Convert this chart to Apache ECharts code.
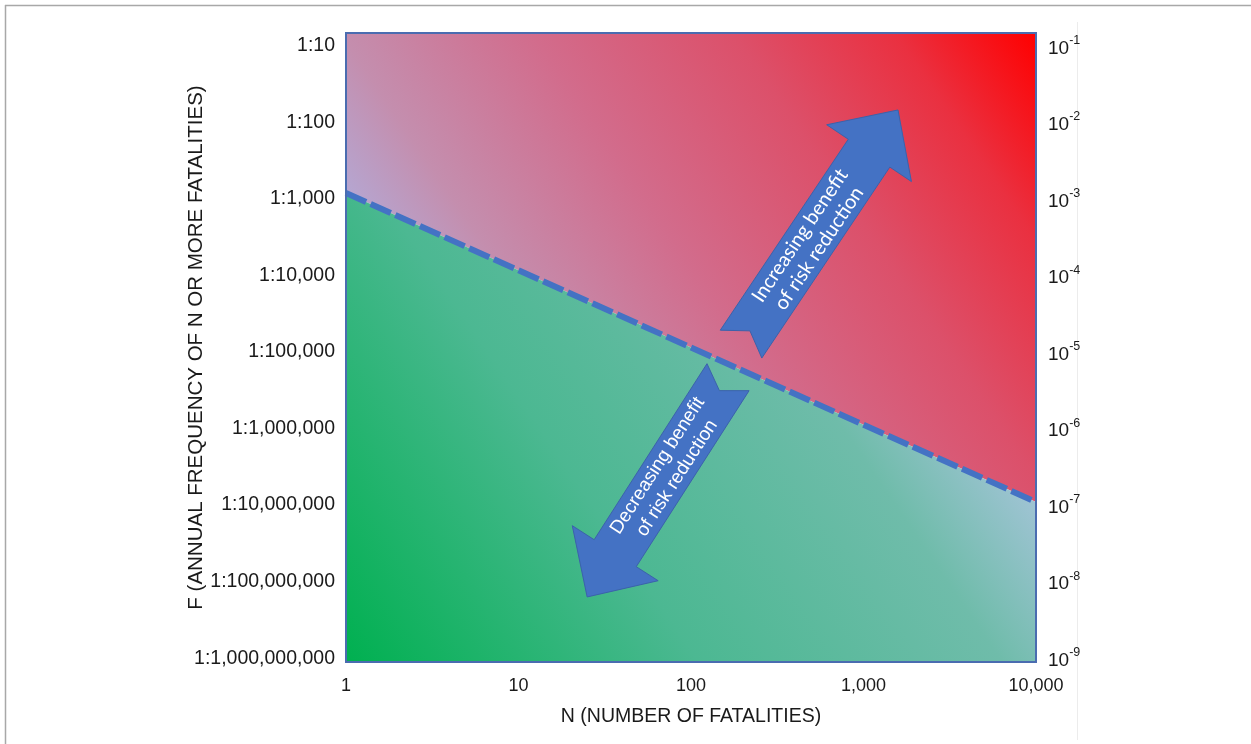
<!DOCTYPE html>
<html>
<head>
<meta charset="utf-8">
<script src="https://cdn.jsdelivr.net/npm/echarts@6/dist/echarts.min.js"></script>
<style>
html,body{margin:0;padding:0;background:#fff;}
#chart{width:1251px;height:744px;}
</style>
</head>
<body>
<div id="chart"></div>
<script>
// ---- data ----
const nTicks = [1, 10, 100, 1000, 10000];
const fTicks = [1e-1, 1e-2, 1e-3, 1e-4, 1e-5, 1e-6, 1e-7, 1e-8, 1e-9];
const nRange = [1, 10000];
const fRange = [8.9e-10, 0.148];
const boundaryN = [1, 10000];
const boundaryF = [1.2e-3, 1.1e-7];
const increasingArrowN = [195, 1585];
const increasingArrowF = [1.27e-5, 1.46e-2];
const decreasingArrowN = [164, 25];
const decreasingArrowF = [4.7e-6, 6.3e-9];
const increasingText = 'Increasing benefit\nof risk reduction';
const decreasingText = 'Decreasing benefit\nof risk reduction';
const xName = 'N (NUMBER OF FATALITIES)';
const yName = 'F (ANNUAL FREQUENCY OF N OR MORE FATALITIES)';

const FONT = '"Liberation Sans", Arial, sans-serif';
const chart = echarts.init(document.getElementById('chart'), null, {renderer: 'canvas'});

function renderItem(params, api) {
  const P = (n, f) => api.coord([n, f]);
  const tl = P(nRange[0], fRange[1]);
  const br = P(nRange[1], fRange[0]);
  const b0 = P(boundaryN[0], boundaryF[0]);
  const b1 = P(boundaryN[1], boundaryF[1]);
  const G = echarts.graphic.LinearGradient;
  const children = [];
  children.push({
    type: 'polygon',
    shape: {points: [tl, [br[0], tl[1]], b1, b0]},
    style: {fill: new G(0, 1, 1, 0, [
      {offset: 0, color: '#aab4dc'},
      {offset: 0.2, color: '#b4a8d4'},
      {offset: 0.31, color: '#c48eae'},
      {offset: 0.5, color: '#d26c8c'},
      {offset: 0.7, color: '#dc506a'},
      {offset: 0.86, color: '#ea3040'},
      {offset: 1, color: '#ff0000'}
    ])}
  });
  children.push({
    type: 'polygon',
    shape: {points: [b0, b1, br, [tl[0], br[1]]]},
    style: {fill: new G(0, 1, 1, 0, [
      {offset: 0, color: '#00b050'},
      {offset: 0.35, color: '#4cb892'},
      {offset: 0.65, color: '#6fbcaa'},
      {offset: 0.8, color: '#a2c4d6'},
      {offset: 1, color: '#b8cce2'}
    ])}
  });
  children.push({
    type: 'polyline',
    shape: {points: [b0, b1]},
    style: {stroke: '#4472c4', lineWidth: 6, lineDash: [22, 5], fill: null}
  });
  children.push({
    type: 'rect',
    shape: {x: tl[0], y: tl[1], width: br[0] - tl[0], height: br[1] - tl[1]},
    style: {stroke: '#4a6cb0', lineWidth: 2, fill: null}
  });
  function arrow(ns, fs, text, family, size) {
    const a = P(ns[0], fs[0]);
    const b = P(ns[1], fs[1]);
    const dx = b[0] - a[0], dy = b[1] - a[1];
    const L = Math.hypot(dx, dy);
    const c = dx / L, s = dy / L;
    const w = 50, H = 102, h = 52, notch = 16;
    const loc = [[0, -w / 2], [notch, 0], [0, w / 2], [L - h, w / 2], [L - h, H / 2], [L, 0], [L - h, -H / 2], [L - h, -w / 2]];
    const pts = loc.map(p => [a[0] + p[0] * c - p[1] * s, a[1] + p[0] * s + p[1] * c]);
    children.push({
      type: 'polygon', shape: {points: pts},
      style: {fill: '#4472c4', stroke: '#3b62ab', lineWidth: 1}
    });
    const m = (L - h + notch) / 2;
    let rot = -Math.atan2(dy, dx);
    if (rot < -Math.PI / 2) rot += Math.PI;
    if (rot > Math.PI / 2) rot -= Math.PI;
    children.push({
      type: 'text',
      x: a[0] + m * c, y: a[1] + m * s, rotation: rot,
      style: {text: text, fill: '#ffffff', fontFamily: family, fontSize: size,
               align: 'center', verticalAlign: 'middle', lineHeight: 23}
    });
  }
  arrow(increasingArrowN, increasingArrowF, increasingText, 'Lato', 20);
  arrow(decreasingArrowN, decreasingArrowF, decreasingText, 'Liberation Sans', 19);
  return {type: 'group', children: children};
}

const yAxisBase = {
  type: 'log', logBase: 10, min: fRange[0], max: fRange[1],
  axisLine: {show: false}, axisTick: {show: false},
  splitLine: {show: false}, minorTick: {show: false}, minorSplitLine: {show: false}
};

const option = {
  animation: false,
  backgroundColor: '#ffffff',
  grid: {left: 346, right: 215, top: 33, bottom: 82, containLabel: false, outerBoundsMode: 'none'},
  graphic: [
    {type: 'line', shape: {x1: 5, y1: 5.5, x2: 1251, y2: 5.5}, style: {stroke: '#a8a8a8', lineWidth: 1.5}, silent: true},
    {type: 'line', shape: {x1: 5.5, y1: 5, x2: 5.5, y2: 744}, style: {stroke: '#a8a8a8', lineWidth: 1.5}, silent: true},
    {type: 'line', shape: {x1: 1077.5, y1: 22, x2: 1077.5, y2: 740}, style: {stroke: '#ececec', lineWidth: 1}, silent: true}
  ],
  xAxis: {
    type: 'log', logBase: 10, min: nRange[0], max: nRange[1],
    axisLine: {show: false}, axisTick: {show: false},
    splitLine: {show: false}, minorTick: {show: false}, minorSplitLine: {show: false},
    axisLabel: {
      customValues: nTicks, margin: 15, fontSize: 18, fontFamily: FONT, color: '#1a1a1a',
      formatter: v => Math.round(v).toLocaleString('en-US')
    },
    name: xName, nameLocation: 'middle', nameGap: 45, nameMoveOverlap: false,
    nameTextStyle: {fontSize: 19.5, fontFamily: FONT, color: '#1a1a1a'}
  },
  yAxis: [
    Object.assign({}, yAxisBase, {
      position: 'left',
      axisLabel: {
        customValues: fTicks, margin: 11, fontSize: 19.5, fontFamily: FONT, color: '#1a1a1a',
        formatter: v => '1:' + Math.round(1 / v).toLocaleString('en-US')
      },
      name: yName, nameLocation: 'middle', nameGap: 139, nameRotate: 90, nameMoveOverlap: false,
      nameTextStyle: {fontSize: 20.5, fontFamily: FONT, color: '#1a1a1a'}
    }),
    Object.assign({}, yAxisBase, {
      position: 'right',
      axisLabel: {
        customValues: fTicks, margin: 12, fontFamily: FONT, color: '#1a1a1a',
        formatter: v => '{b|10}{s|' + Math.round(Math.log10(v)) + '}',
        rich: {
          b: {fontSize: 19, fontFamily: FONT, color: '#1a1a1a', lineHeight: 24, verticalAlign: 'bottom'},
          s: {fontSize: 12.5, fontFamily: FONT, color: '#1a1a1a', lineHeight: 24, verticalAlign: 'top'}
        }
      }
    })
  ],
  series: [{
    type: 'custom',
    coordinateSystem: 'cartesian2d',
    xAxisIndex: 0, yAxisIndex: 0,
    clip: false,
    silent: true,
    renderItem: renderItem,
    data: [[boundaryN[0], boundaryF[0]]]
  }]
};
chart.setOption(option);
</script>
</body>
</html>
